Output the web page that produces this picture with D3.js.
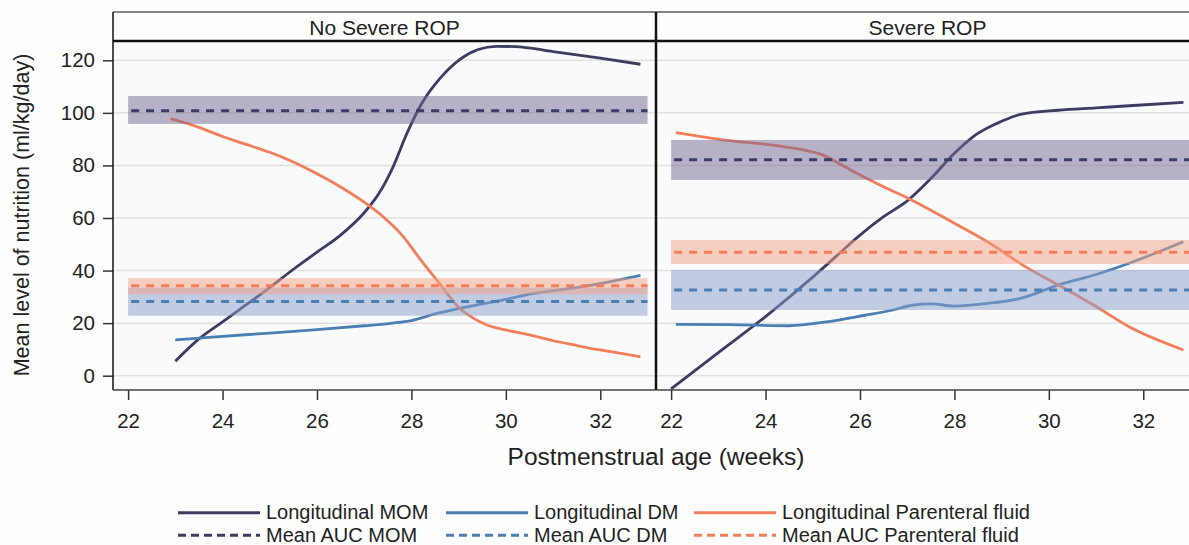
<!DOCTYPE html>
<html>
<head>
<meta charset="utf-8">
<script src="https://cdn.jsdelivr.net/npm/d3@7"></script>
<style>
body {
  margin: 0;
  background: #fefefe;
}
text {
  font-family: 'Liberation Sans', Arial, sans-serif;
  fill: #222;
}
</style>
</head>
<body>
<svg id="chart" width="1189" height="545"></svg>
<script>
// panels and axis ticks
const panels = ['No Severe ROP', 'Severe ROP'];
const xTicks = [22, 24, 26, 28, 30, 32];
const yTicks = [0, 20, 40, 60, 80, 100, 120];
const seriesNames = ['MOM', 'DM', 'Parenteral fluid'];

// longitudinal curves [week, ml/kg/day]
const momNoSevere = [[23.0, 5.5], [23.5, 14], [24.0, 20.5], [24.5, 27], [25.0, 33.5], [25.5, 40.5],
  [26.0, 47], [26.5, 53.5], [27.0, 62], [27.3, 69], [27.6, 79], [27.9, 92], [28.2, 103],
  [28.6, 113], [29.0, 120], [29.4, 124], [29.8, 125.3], [30.2, 125.2], [31.0, 123.3],
  [32.0, 120.8], [32.85, 118.5]];
const dmNoSevere = [[23.0, 13.6], [24.0, 15], [25.0, 16.2], [26.0, 17.5], [27.0, 19], [27.6, 20],
  [28.0, 21], [28.5, 23.5], [29.0, 25.5], [29.5, 27.3], [30.0, 29], [30.5, 31], [31.0, 32.3],
  [31.5, 33.5], [32.0, 35], [32.5, 36.8], [32.85, 38.2]];
const pfNoSevere = [[22.9, 97.8], [23.5, 94.5], [24.0, 91], [24.5, 88], [25.0, 85], [25.5, 81.3],
  [26.0, 76.8], [26.5, 71.8], [27.0, 66], [27.4, 60.5], [27.8, 53.5], [28.2, 44], [28.6, 35],
  [29.0, 26], [29.3, 22], [29.6, 19.3], [30.0, 17.4], [30.5, 15.5], [31.0, 13.3], [31.5, 11.5],
  [32.0, 9.8], [32.5, 8.3], [32.85, 7.2]];

const momSevere = [[22.0, -5], [23.0, 8.8], [24.0, 22.5], [25.0, 37.5], [25.5, 45.5], [26.0, 53.5],
  [26.5, 60.5], [27.0, 66.5], [27.5, 75], [28.0, 84.6], [28.45, 91.6], [28.9, 96], [29.4, 99.4],
  [30.2, 101], [31.0, 101.9], [31.7, 102.7], [32.85, 104]];
const dmSevere = [[22.1, 19.5], [23.2, 19.4], [24.5, 19], [25.3, 20.5], [26.1, 23], [26.7, 25],
  [27.1, 26.8], [27.5, 27.3], [28.0, 26.5], [28.7, 27.5], [29.4, 29.4], [30.2, 34.5], [31.0, 38.5],
  [31.7, 42.8], [32.85, 51]];
const pfSevere = [[22.1, 92.5], [23.2, 89.5], [24.4, 87.1], [25.2, 84], [25.8, 78.3], [26.5, 71.9],
  [27.1, 66.8], [28.0, 58], [28.75, 50.4], [29.5, 41.5], [30.2, 34.5], [31.0, 26.3], [31.7, 18.6],
  [32.85, 9.8]];

// mean AUC with band [mean, low, high], order MOM, DM, Parenteral fluid
const aucNoSevere = [[100.8, 95.8, 106.4], [28.2, 22.8, 33.5], [34.2, 31.0, 37.1]];
const aucSevere = [[82.2, 74.5, 89.7], [32.6, 25.0, 40.2], [47.0, 42.5, 51.6]];
const aucSpan = [22, 33];

const curves = [[momNoSevere, dmNoSevere, pfNoSevere], [momSevere, dmSevere, pfSevere]];
const aucs = [aucNoSevere, aucSevere];

const lineColors = ['#3d3c64', '#4b7fb3', '#f47e5a'];
const bandColors = ['#73678f', '#8a9ec8', '#f4a283'];

const svg = d3.select('#chart');
const panelLeft = [113, 656];
const panelWidth = 543;
const frameTop = 12, plotTop = 41, plotBottom = 390;
const fontStack = "'Liberation Sans', Arial, sans-serif";

const y = d3.scaleLinear().domain([0, 120]).range([375.7, 60.3]);

svg.append('defs').selectAll('clipPath')
  .data(panelLeft)
  .enter()
  .append('clipPath')
  .attr('id', (d, i) => 'clip' + i)
  .append('rect')
  .attr('x', d => d).attr('y', plotTop)
  .attr('width', panelWidth).attr('height', plotBottom - plotTop);

panels.forEach((name, p) => {
  const left = panelLeft[p];
  const x = d3.scaleLinear().domain([21.68, 33.18]).range([left, left + panelWidth]);
  const g = svg.append('g');

  // header strip and plot background
  g.append('rect').attr('x', left).attr('y', frameTop).attr('width', panelWidth)
    .attr('height', plotTop - frameTop).attr('fill', '#fefefe');
  g.append('rect').attr('x', left).attr('y', plotTop).attr('width', panelWidth)
    .attr('height', plotBottom - plotTop).attr('fill', '#f9fafc');
  g.append('text')
    .attr('x', left + panelWidth / 2).attr('y', 34.5)
    .attr('text-anchor', 'middle').style('font-size', '21px')
    .text(name);

  // grid
  g.selectAll('.grid').data(yTicks).enter().append('line')
    .attr('x1', left).attr('x2', left + panelWidth)
    .attr('y1', d => y(d)).attr('y2', d => y(d))
    .attr('stroke', '#e5e0e0').attr('stroke-width', 1.5);

  const plot = g.append('g').attr('clip-path', `url(#clip${p})`);

  const line = d3.line()
    .x(d => x(d[0])).y(d => y(d[1]))
    .curve(d3.curveMonotoneX);

  curves[p].forEach((c, i) => {
    plot.append('path').datum(c)
      .attr('d', line)
      .attr('fill', 'none')
      .attr('stroke', lineColors[i])
      .attr('stroke-width', 2.8);
  });

  // AUC bands on top of curves, then the mean dashes
  aucs[p].forEach((a, i) => {
    plot.append('rect')
      .attr('x', x(aucSpan[0])).attr('width', x(aucSpan[1]) - x(aucSpan[0]))
      .attr('y', y(a[2])).attr('height', y(a[1]) - y(a[2]))
      .attr('fill', bandColors[i]).attr('fill-opacity', 0.5);
  });
  aucs[p].forEach((a, i) => {
    plot.append('line')
      .attr('x1', x(aucSpan[0]) + 3).attr('x2', x(aucSpan[1]))
      .attr('y1', y(a[0])).attr('y2', y(a[0]))
      .attr('stroke', lineColors[i]).attr('stroke-width', 3)
      .attr('stroke-dasharray', '8,7');
  });

  // x axis
  const xAxis = d3.axisBottom(x).tickValues(xTicks).tickSize(10).tickPadding(13);
  const ax = g.append('g').attr('transform', `translate(0,${plotBottom})`).call(xAxis);
  ax.select('.domain').remove();
  ax.selectAll('.tick line').attr('stroke', '#333').attr('stroke-width', 1.5);
  ax.selectAll('.tick text').style('font-size', '20.5px')
    .style('font-family', fontStack).attr('fill', '#222');
});

// y axis
const yAxis = d3.axisLeft(y).tickValues(yTicks).tickSize(10).tickPadding(8);
const ay = svg.append('g').attr('transform', `translate(${panelLeft[0]},0)`).call(yAxis);
ay.select('.domain').remove();
ay.selectAll('.tick line').attr('stroke', '#333').attr('stroke-width', 1.5);
ay.selectAll('.tick text').style('font-size', '20.5px')
  .style('font-family', fontStack).attr('fill', '#222');

// frame lines
const frame = svg.append('g').attr('stroke', '#111').attr('fill', 'none');
frame.append('line').attr('x1', 113).attr('x2', 1189).attr('y1', frameTop).attr('y2', frameTop).attr('stroke-width', 1.2);
frame.append('line').attr('x1', 113).attr('x2', 113).attr('y1', frameTop).attr('y2', plotBottom).attr('stroke-width', 1.5);
frame.append('line').attr('x1', 113).attr('x2', 1189).attr('y1', plotTop).attr('y2', plotTop).attr('stroke-width', 2.5);
frame.append('line').attr('x1', 656).attr('x2', 656).attr('y1', frameTop).attr('y2', plotBottom).attr('stroke-width', 2.5);
frame.append('line').attr('x1', 113).attr('x2', 1189).attr('y1', plotBottom).attr('y2', plotBottom)
  .attr('stroke', '#444').attr('stroke-width', 1.5);

// axis titles
svg.append('text')
  .attr('x', 656).attr('y', 465)
  .attr('text-anchor', 'middle').style('font-size', '24.5px')
  .text('Postmenstrual age (weeks)');
svg.append('text')
  .attr('transform', 'translate(29,215) rotate(-90)')
  .attr('text-anchor', 'middle').style('font-size', '21.5px')
  .text('Mean level of nutrition (ml/kg/day)');

// legend
const legendX = [178, 446, 694];
const legendRows = [{ prefix: 'Longitudinal ', dash: null, y: 512.7 },
  { prefix: 'Mean AUC ', dash: '8,5', y: 535.3 }];
const legend = svg.append('g');
legendRows.forEach(r => {
  seriesNames.forEach((s, i) => {
    legend.append('line')
      .attr('x1', legendX[i]).attr('x2', legendX[i] + 82)
      .attr('y1', r.y).attr('y2', r.y)
      .attr('stroke', lineColors[i]).attr('stroke-width', 3)
      .attr('stroke-dasharray', r.dash);
    legend.append('text')
      .attr('x', legendX[i] + 88).attr('y', r.y + 6.5)
      .style('font-size', '20px')
      .text(r.prefix + s);
  });
});
</script>
</body>
</html>
